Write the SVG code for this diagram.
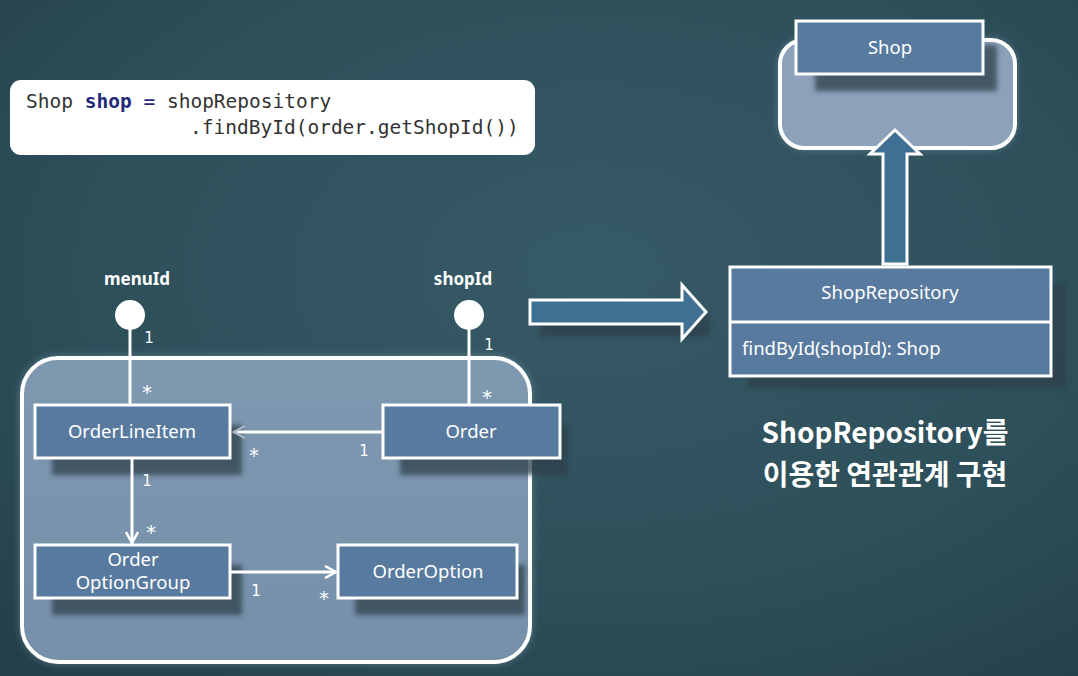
<svg xmlns="http://www.w3.org/2000/svg" width="1078" height="676" viewBox="0 0 1078 676">
<defs>
<radialGradient id="bg" cx="0.55" cy="0.4" r="0.8">
<stop offset="0" stop-color="#365a66"/>
<stop offset="0.6" stop-color="#2d4f5a"/>
<stop offset="1" stop-color="#233f49"/>
</radialGradient>
<linearGradient id="agg" x1="0" y1="0" x2="0" y2="1">
<stop offset="0" stop-color="#7e98b0"/>
<stop offset="1" stop-color="#7690aa"/>
</linearGradient>
<filter id="glow" x="-10%" y="-10%" width="120%" height="120%">
<feGaussianBlur stdDeviation="5"/>
</filter>
<filter id="shadow" x="-20%" y="-20%" width="150%" height="160%">
<feGaussianBlur stdDeviation="2.5"/>
</filter>
<marker id="open" viewBox="0 0 14 14" refX="12" refY="7" markerWidth="14" markerHeight="14" markerUnits="userSpaceOnUse" orient="auto">
<path d="M1,1 L12,7 L1,13" fill="none" stroke="#ffffff" stroke-width="2.5"/>
</marker>
<marker id="openGray" viewBox="0 0 14 14" refX="12" refY="7" markerWidth="14" markerHeight="14" markerUnits="userSpaceOnUse" orient="auto">
<path d="M1,1 L12,7 L1,13" fill="none" stroke="#a9b6c4" stroke-width="2.5"/>
</marker>
</defs>
<style>
.box{fill:#587a9e;stroke:#ffffff;stroke-width:3}
.shd{fill:#2f3f4c;opacity:0.75}
.lbl{font-family:"Noto Sans","Liberation Sans",sans-serif;font-size:18.5px;fill:#ffffff;text-anchor:middle}
.lbll{font-family:"Noto Sans","Liberation Sans",sans-serif;font-size:18.5px;fill:#ffffff;text-anchor:start}
.id{font-family:"Noto Sans","Liberation Sans",sans-serif;font-size:17px;font-weight:bold;fill:#ffffff;text-anchor:middle}
.mult{font-family:"DejaVu Sans",sans-serif;font-size:15px;fill:#ffffff;text-anchor:middle}
.star{font-family:"DejaVu Sans",sans-serif;font-size:20px;fill:#ffffff;text-anchor:middle}
.conn{stroke:#ffffff;stroke-width:3;fill:none}
.code{font-family:"DejaVu Sans Mono","Liberation Mono",monospace;font-size:19.5px;fill:#333333}
.block{fill:#3f6f92;stroke:#ffffff;stroke-width:3;stroke-linejoin:miter}
.kor{font-family:"Noto Sans CJK KR","Noto Sans",sans-serif;font-size:28px;font-weight:bold;fill:#ffffff;text-anchor:middle}
</style>
<rect width="1078" height="676" fill="url(#bg)"/>

<g id="code">
<rect x="10" y="80" width="525" height="75" rx="11" fill="#ffffff"/>
<text class="code" x="26" y="108">Shop <tspan fill="#1f2a7a" font-weight="bold">shop</tspan> <tspan fill="#1f2a7a">=</tspan> shopRepository</text>
<text class="code" x="190" y="134">.findById(order.getShopId())</text>
</g>

<g id="order-aggregate">
<rect x="22" y="358" width="508" height="304" rx="36" fill="#9fc4d6" opacity="0.6" filter="url(#glow)"/>
<rect x="22" y="358" width="508" height="304" rx="36" fill="url(#agg)" stroke="#ffffff" stroke-width="4"/>
</g>

<g id="shop-aggregate">
<rect x="780" y="40" width="235" height="108" rx="24" fill="#9fc4d6" opacity="0.5" filter="url(#glow)"/>
<rect x="780" y="40" width="235" height="108" rx="24" fill="#8ba2ba" stroke="#ffffff" stroke-width="4"/>
</g>

<g id="shadows">
<rect class="shd" x="52" y="425" width="190" height="50" filter="url(#shadow)"/>
<rect class="shd" x="400" y="425" width="168" height="50" filter="url(#shadow)"/>
<rect class="shd" x="52" y="565" width="190" height="50" filter="url(#shadow)"/>
<rect class="shd" x="355" y="565" width="170" height="50" filter="url(#shadow)"/>
<rect class="shd" x="815" y="45" width="182" height="46" filter="url(#shadow)"/>
<rect class="shd" x="540" y="315" width="170" height="22" opacity="0.5" filter="url(#shadow)"/>
<rect class="shd" x="748" y="285" width="318" height="104" opacity="0.5" filter="url(#shadow)"/>
</g>

<g id="connectors">
<line class="conn" x1="130" y1="328" x2="130" y2="405"/>
<line class="conn" x1="469" y1="328" x2="469" y2="405"/>
<line class="conn" x1="383" y1="432" x2="234" y2="432" stroke="#e8edf2" marker-end="url(#openGray)"/>
<line class="conn" x1="132" y1="458" x2="132" y2="543" marker-end="url(#open)"/>
<line class="conn" x1="230" y1="572" x2="336" y2="572" marker-end="url(#open)"/>
<text class="mult" x="149" y="343">1</text>
<text class="star" x="147" y="399">*</text>
<text class="mult" x="489" y="350">1</text>
<text class="star" x="487" y="404">*</text>
<text class="star" x="254" y="462">*</text>
<text class="mult" x="364" y="456">1</text>
<text class="mult" x="147" y="486" fill="#c8d2de">1</text>
<text class="star" x="151" y="539">*</text>
<text class="mult" x="256" y="596">1</text>
<text class="star" x="324" y="605">*</text>
</g>

<g id="menuId">
<circle cx="130" cy="315" r="15" fill="#ffffff"/>
<text class="id" x="137" y="285">menuId</text>
</g>

<g id="shopId">
<circle cx="469" cy="315" r="15" fill="#ffffff"/>
<text class="id" x="463" y="285">shopId</text>
</g>

<g id="OrderLineItem">
<rect class="box" x="35" y="405" width="195" height="53"/>
<text class="lbl" x="132" y="438">OrderLineItem</text>
</g>

<g id="Order">
<rect class="box" x="383" y="405" width="177" height="53"/>
<text class="lbl" x="471" y="438">Order</text>
</g>

<g id="OrderOptionGroup">
<rect class="box" x="35" y="545" width="195" height="53"/>
<text class="lbl" x="133" y="566">Order</text>
<text class="lbl" x="133" y="589">OptionGroup</text>
</g>

<g id="OrderOption">
<rect class="box" x="338" y="545" width="179" height="53"/>
<text class="lbl" x="428" y="578">OrderOption</text>
</g>

<g id="Shop">
<rect class="box" x="796" y="21" width="187" height="53"/>
<text class="lbl" x="890" y="54">Shop</text>
</g>

<g id="arrow-right">
<path class="block" d="M530,300 L682,300 L682,285 L706,312 L682,339 L682,324 L530,324 Z"/>
</g>

<g id="arrow-up">
<path class="block" d="M883,264 L883,154 L870,154 L895,130 L920,154 L907,154 L907,264 Z"/>
</g>

<g id="ShopRepository">
<rect class="box" x="730" y="267" width="321" height="109"/>
<line x1="730" y1="322" x2="1051" y2="322" stroke="#ffffff" stroke-width="3"/>
<text class="lbl" x="890" y="299">ShopRepository</text>
<text class="lbll" x="742" y="355">findById(shopId):  Shop</text>
</g>

<g id="caption">
<text class="kor" x="885" y="443">ShopRepository를</text>
<text class="kor" x="885" y="485">이용한 연관관계 구현</text>
</g>
</svg>
